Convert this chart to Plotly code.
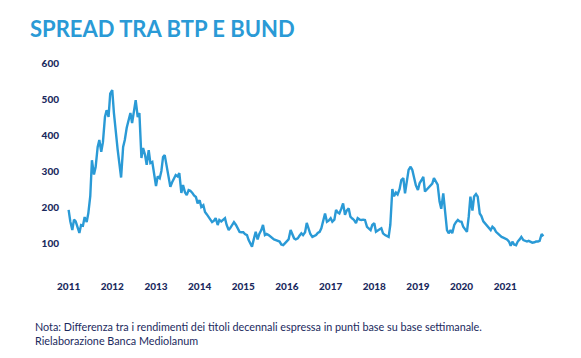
import plotly.graph_objects as go
import pandas as pd

# Semi-monthly readings (1st and 15th of each month), basis points
y2011 = [192, 160, 136, 165, 160, 145, 128, 150, 148, 172, 158, 183,
         230, 330, 290, 311, 367, 386, 353, 380, 450, 469, 450, 515]
y2012 = [525, 461, 400, 360, 320, 282, 367, 386, 420, 442, 461, 433,
         465, 497, 450, 461, 336, 364, 345, 317, 358, 322, 325, 290]
y2013 = [258, 285, 280, 300, 339, 344, 310, 290, 256, 268, 278, 289,
         285, 294, 239, 261, 240, 233, 247, 245, 239, 232, 228, 210]
y2014 = [219, 200, 205, 186, 180, 172, 165, 158, 162, 169, 150, 164,
         160, 165, 169, 150, 136, 142, 150, 158, 150, 142, 131, 130]
y2015 = [130, 125, 122, 108, 100, 90, 113, 131, 110, 125, 136, 150,
         122, 125, 122, 118, 113, 110, 108, 106, 104, 96, 94, 99]
y2016 = [104, 110, 136, 125, 113, 110, 113, 120, 127, 122, 130, 156,
         136, 125, 117, 120, 122, 128, 131, 141, 160, 182, 159, 162]
y2017 = [169, 159, 165, 192, 185, 182, 196, 210, 178, 190, 196, 173,
         168, 164, 155, 169, 165, 164, 165, 164, 145, 140, 136, 150]
y2018 = [155, 131, 136, 138, 141, 127, 122, 120, 117, 150, 250, 230,
         240, 235, 250, 275, 280, 238, 280, 303, 312, 303, 280, 260]
y2019 = [247, 266, 275, 284, 243, 248, 252, 258, 265, 280, 268, 262,
         215, 195, 238, 182, 136, 127, 136, 127, 150, 158, 164, 160]
y2020 = [159, 145, 136, 131, 173, 229, 190, 229, 236, 229, 182, 175,
         160, 155, 150, 145, 136, 145, 140, 131, 125, 122, 117, 115]
y2021 = [113, 110, 104, 92, 104, 96, 94, 104, 110, 117, 108, 106,
         104, 106, 104, 101, 102, 104, 104, 106, 125, 119]

spread = y2011 + y2012 + y2013 + y2014 + y2015 + y2016 + y2017 + y2018 + y2019 + y2020 + y2021
dates = pd.date_range("2011-01-01", periods=len(spread), freq="SMS")

year_ticks = [f"{y}-01-01" for y in range(2011, 2022)]
year_labels = [str(y) for y in range(2011, 2022)]
y_ticks = [100, 200, 300, 400, 500, 600]

title_text = "SPREAD TRA BTP E BUND"
note_text = ("Nota: Differenza tra i rendimenti dei titoli decennali espressa in punti base su base settimanale.<br>"
             "Rielaborazione Banca Mediolanum")

blue = "#2a9ad6"
navy = "#1b2a5e"

L, R, T, B = 63, 25, 63, 79
W, H = 581, 358

fig = go.Figure()
fig.add_trace(go.Scatter(x=dates, y=spread, mode="lines",
                         line=dict(color=blue, width=2.4), hoverinfo="skip"))

fig.update_layout(
    width=W, height=H,
    margin=dict(l=L, r=R, t=T, b=B),
    paper_bgcolor="white", plot_bgcolor="white",
    showlegend=False,
    font=dict(family="Lato", color=navy),
    xaxis=dict(range=["2010-11-15", "2022-03-01"], tickvals=year_ticks, ticktext=year_labels,
               showgrid=False, zeroline=False, showline=False, ticks="",
               tickfont=dict(size=10, color=navy, family="Lato Black")),
    yaxis=dict(range=[0, 600], tickvals=y_ticks, showgrid=False, zeroline=False,
               showline=False, ticks="", ticklabelstandoff=3,
               tickfont=dict(size=10, color=navy, family="Lato Black")),
)

pw = W - L - R
ph = H - T - B
def px(x):
    return (x - L) / pw
def py(y):
    return 1 - (y - T) / ph

fig.add_annotation(text="<b>" + title_text + "</b>", x=px(28), y=py(29), xref="paper", yref="paper",
                   showarrow=False, xanchor="left", yanchor="middle",
                   font=dict(size=22, color=blue, family="Lato"))
fig.add_annotation(text=note_text, x=px(33), y=py(333), xref="paper", yref="paper",
                   showarrow=False, xanchor="left", yanchor="middle", align="left",
                   font=dict(size=10.8, color=navy, family="Lato"))

fig.write_html("out.html", config={"displayModeBar": False},
               post_script="document.body.style.margin='0';")
